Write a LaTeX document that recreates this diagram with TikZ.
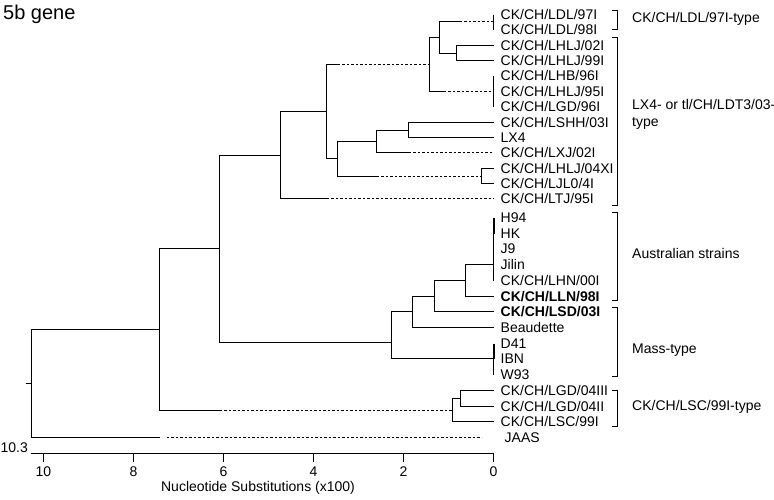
\documentclass[tikz,border=0pt]{standalone}
\usepackage{fontspec}
\setmainfont{Liberation Sans}
\usetikzlibrary{positioning}

\tikzset{
  branch/.style={line width=1.5pt},
  dashbranch/.style={line width=1.5pt, dash pattern=on 2.6pt off 1.9pt},
  leaf/.style={inner sep=0pt, font=\fontsize{14}{16}\selectfont},
  grouplabel/.style={anchor=west, inner sep=0pt, align=left, font=\fontsize{14}{17}\selectfont},
  bracket/.style={line width=1.5pt},
}

\begin{document}
\begin{tikzpicture}[x=1pt, y=-1pt, node distance=7pt]
  \useasboundingbox (0,0) rectangle (774,499);

  % Tips
  \foreach \i/\y in {1/14.5, 2/29.5, 3/45.5, 4/60.5, 5/75.5, 6/91.5, 7/106.5,
                     8/122.5, 9/137.5, 10/152.5, 11/168.5, 12/183.5, 13/198.5,
                     14/217.5, 15/233.5, 16/248.5, 17/264.5, 18/280.5, 19/296.5,
                     20/311.5, 21/327.5, 22/343.5, 23/358.5, 24/374.5, 25/390.5,
                     26/406.5, 27/421.5, 28/437.5}
    \coordinate (t\i) at (493.5,\y);

  % Leaves
  \node[leaf, right=of t1] (l1) {CK/CH/LDL/97I};
  \node[leaf, right=of t2] (l2) {CK/CH/LDL/98I};
  \node[leaf, right=of t3] (l3) {CK/CH/LHLJ/02I};
  \node[leaf, right=of t4] (l4) {CK/CH/LHLJ/99I};
  \node[leaf, right=of t5] (l5) {CK/CH/LHB/96I};
  \node[leaf, right=of t6] (l6) {CK/CH/LHLJ/95I};
  \node[leaf, right=of t7] (l7) {CK/CH/LGD/96I};
  \node[leaf, right=of t8] (l8) {CK/CH/LSHH/03I};
  \node[leaf, right=of t9] (l9) {LX4};
  \node[leaf, right=of t10] (l10) {CK/CH/LXJ/02I};
  \node[leaf, right=of t11] (l11) {CK/CH/LHLJ/04XI};
  \node[leaf, right=of t12] (l12) {CK/CH/LJL0/4I};
  \node[leaf, right=of t13] (l13) {CK/CH/LTJ/95I};
  \node[leaf, right=of t14] (l14) {H94};
  \node[leaf, right=of t15] (l15) {HK};
  \node[leaf, right=of t16] (l16) {J9};
  \node[leaf, right=of t17] (l17) {Jilin};
  \node[leaf, right=of t18] (l18) {CK/CH/LHN/00I};
  \node[leaf, right=of t19] (l19) {\bfseries CK/CH/LLN/98I};
  \node[leaf, right=of t20] (l20) {\bfseries CK/CH/LSD/03I};
  \node[leaf, right=of t21] (l21) {Beaudette};
  \node[leaf, right=of t22] (l22) {D41};
  \node[leaf, right=of t23] (l23) {IBN};
  \node[leaf, right=of t24] (l24) {W93};
  \node[leaf, right=of t25] (l25) {CK/CH/LGD/04III};
  \node[leaf, right=of t26] (l26) {CK/CH/LGD/04II};
  \node[leaf, right=of t27] (l27) {CK/CH/LSC/99I};
  \node[leaf, right=11pt of t28] (l28) {JAAS};

  % Internal nodes
  \coordinate (nLDL) at (493.5,21.5);
  \coordinate (nP2) at (456.5,53.5);
  \coordinate (nE1) at (439.5,37.5);
  \coordinate (nG3) at (493.5,91.5);
  \coordinate (nE) at (429.5,64.5);
  \coordinate (nG) at (408.5,130.5);
  \coordinate (nF2) at (376.5,141.5);
  \coordinate (nH) at (481.5,176.5);
  \coordinate (nF) at (337.5,158.5);
  \coordinate (nD) at (326.5,111.5);
  \coordinate (nC) at (280.5,155.5);
  \coordinate (nAus) at (493.5,264.5);
  \coordinate (nQ) at (465.5,280.5);
  \coordinate (nO) at (434.5,296.5);
  \coordinate (nN) at (412.5,311.5);
  \coordinate (nMass) at (493.5,358.5);
  \coordinate (nM) at (391.5,342.5);
  \coordinate (nB) at (219.5,248.5);
  \coordinate (nS1) at (460.5,398.5);
  \coordinate (nS) at (452.5,410.5);
  \coordinate (nA) at (159.5,329.5);
  \coordinate (nR) at (31.5,383.5);
  \coordinate (stub) at (25.5,383.5);

  % where solid branches turn dashed
  \coordinate (e1dash) at (459.5,21.5);
  \coordinate (edash) at (443.5,91.5);
  \coordinate (ddash) at (337.5,64.5);
  \coordinate (fdash) at (376.5,176.5);
  \coordinate (f2dash) at (408.5,152.5);
  \coordinate (cdash) at (326.5,198.5);
  \coordinate (adash) at (219.5,410.5);
  \coordinate (rsolid) at (159.5,437.5);
  \coordinate (rdash) at (166.5,437.5);
  \coordinate (jend) at (481.5,437.5);

  % Zero-length clades
  \draw[branch] (t1) -- (t2);
  \draw[branch] (t5) -- (t7);
  \draw[branch] (t14) -- (t18);
  \draw[branch] ([xshift=1pt]t14) -- ([xshift=1pt]t15);
  \draw[branch] (t22) -- (t24);
  \draw[branch] ([xshift=1pt]t22) -- ([xshift=1pt]t23);

  % Solid branches
  \foreach \u/\v in {nP2/t3, nP2/t4, nE1/nP2, nE/nE1, nG/t8, nG/t9, nF2/nG,
                     nH/t11, nH/t12, nF/nF2, nD/nF, nC/nD, nQ/nAus, nQ/t19,
                     nO/nQ, nO/t20, nN/nO, nN/t21, nM/nN, nM/nMass, nB/nC,
                     nB/nM, nS1/t25, nS1/t26, nS/nS1, nS/t27, nA/nB, nR/nA}
    \draw[branch] (\u) |- (\v);
  \draw[branch] (stub) -- (nR);

  % Partly dashed branches
  \foreach \u/\m/\v in {nE1/e1dash/nLDL, nE/edash/nG3, nD/ddash/nE, nF/fdash/nH,
                        nF2/f2dash/t10, nC/cdash/t13, nA/adash/nS} {
    \draw[branch] (\u) |- (\m);
    \draw[dashbranch] (\m) -- (\v);
  }
  \draw[branch] (nR) |- (rsolid);
  \draw[dashbranch] (rdash) -- (jend);

  % Brackets and group labels
  \draw[bracket] (611.5,10.5) -| (617.5,29.5) -- (611.5,29.5);
  \draw[bracket] (611.5,37.5) -| (617.5,205.5) -- (611.5,205.5);
  \draw[bracket] (611.5,212.5) -| (617.5,300.5) -- (611.5,300.5);
  \draw[bracket] (611.5,307.5) -| (617.5,376.5) -- (611.5,376.5);
  \draw[bracket] (611.5,390.5) -| (617.5,426.5) -- (611.5,426.5);
  \node[grouplabel] (gLDL) at (632,19) {CK/CH/LDL/97I-type};
  \node[grouplabel] (gLX4) at (632,114) {LX4- or tl/CH/LDT3/03-\\type};
  \node[grouplabel] (gAus) at (632,253) {Australian strains};
  \node[grouplabel] (gMass) at (632,350) {Mass-type};
  \node[grouplabel] (gLSC) at (632,407) {CK/CH/LSC/99I-type};

  % Scale
  \foreach \k [evaluate=\k as \xk using 493.5-45*\k] in {0,2,...,10} {
    \coordinate (ax\k) at (\xk,453.5);
    \draw[branch] (ax\k) -- ++(0,8);
    \node[leaf] (tick\k) at (\xk,472) {\k};
  }
  \draw[branch] (30.5,453.5) -- (494.2,453.5);
  \node[leaf, anchor=east] (rootdist) at (28,448) {10.3};
  \node[leaf] (xtitle) at (258,488) {Nucleotide Substitutions (x100)};
  \node[anchor=west, inner sep=0pt, font=\fontsize{20}{22}\selectfont] (title) at (3,14) {5b gene};
\end{tikzpicture}
\end{document}
